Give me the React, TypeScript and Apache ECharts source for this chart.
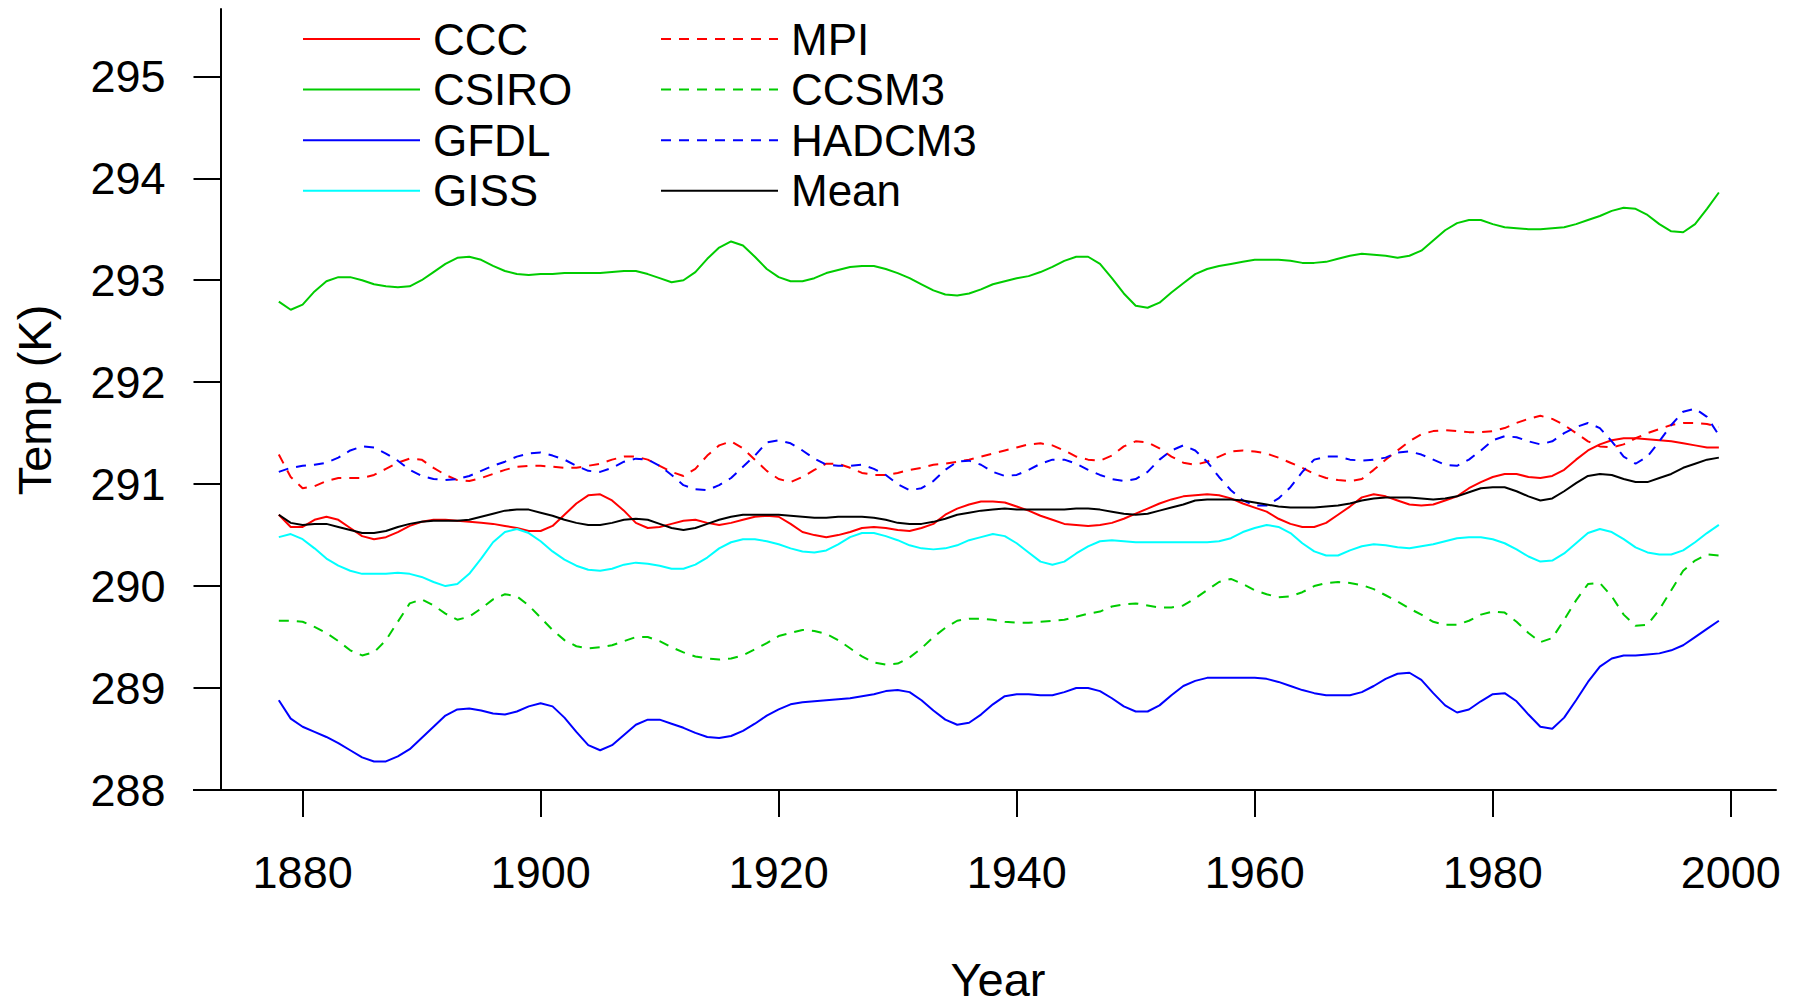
import React, { useEffect, useRef } from "react";
import * as echarts from "echarts";

const years: number[] = Array.from({ length: 122 }, (_, i) => 1878 + i);

const ccc = [290.70, 290.58,
  290.58, 290.65, 290.68, 290.65, 290.57, 290.49, 290.46, 290.48, 290.53, 290.59,
  290.63, 290.65, 290.65, 290.64, 290.63, 290.62, 290.61, 290.59, 290.57, 290.54,
  290.54, 290.59, 290.70, 290.81, 290.89, 290.90, 290.84, 290.74, 290.62, 290.57,
  290.58, 290.61, 290.64, 290.65, 290.62, 290.60, 290.62, 290.65, 290.68, 290.69,
  290.68, 290.61, 290.53, 290.50, 290.48, 290.50, 290.53, 290.57, 290.58, 290.57,
  290.55, 290.54, 290.57, 290.61, 290.70, 290.76, 290.80, 290.83, 290.83, 290.82,
  290.78, 290.74, 290.69, 290.65, 290.61, 290.60, 290.59, 290.60, 290.62, 290.66,
  290.71, 290.76, 290.81, 290.85, 290.88, 290.89, 290.90, 290.89, 290.86, 290.81,
  290.77, 290.73, 290.66, 290.61, 290.58, 290.58, 290.62, 290.70, 290.78, 290.87,
  290.90, 290.88, 290.84, 290.80, 290.79, 290.80, 290.84, 290.88, 290.96, 291.02,
  291.07, 291.10, 291.10, 291.07, 291.06, 291.08, 291.14, 291.24, 291.33, 291.39,
  291.43, 291.45, 291.45, 291.44, 291.43, 291.42, 291.40, 291.38, 291.36, 291.36];

const csiro = [292.79, 292.71,
  292.76, 292.89, 292.99, 293.03, 293.03, 293.00, 292.96, 292.94, 292.93, 292.94,
  293.00, 293.08, 293.16, 293.22, 293.23, 293.20, 293.14, 293.09, 293.06, 293.05,
  293.06, 293.06, 293.07, 293.07, 293.07, 293.07, 293.08, 293.09, 293.09, 293.06,
  293.02, 292.98, 293.00, 293.08, 293.21, 293.32, 293.38, 293.34, 293.23, 293.11,
  293.03, 292.99, 292.99, 293.02, 293.07, 293.10, 293.13, 293.14, 293.14, 293.11,
  293.07, 293.02, 292.96, 292.90, 292.86, 292.85, 292.87, 292.91, 292.96, 292.99,
  293.02, 293.04, 293.08, 293.13, 293.19, 293.23, 293.23, 293.16, 293.02, 292.87,
  292.75, 292.73, 292.78, 292.88, 292.97, 293.06, 293.11, 293.14, 293.16, 293.18,
  293.20, 293.20, 293.20, 293.19, 293.17, 293.17, 293.18, 293.21, 293.24, 293.26,
  293.25, 293.24, 293.22, 293.24, 293.29, 293.39, 293.49, 293.56, 293.59, 293.59,
  293.55, 293.52, 293.51, 293.50, 293.50, 293.51, 293.52, 293.55, 293.59, 293.63,
  293.68, 293.71, 293.70, 293.64, 293.55, 293.48, 293.47, 293.55, 293.70, 293.86];

const gfdl = [288.88, 288.70,
  288.62, 288.57, 288.52, 288.46, 288.39, 288.32, 288.28, 288.28, 288.33, 288.40,
  288.51, 288.62, 288.73, 288.79, 288.80, 288.78, 288.75, 288.74, 288.77, 288.82,
  288.85, 288.82, 288.71, 288.57, 288.44, 288.39, 288.44, 288.54, 288.64, 288.69,
  288.69, 288.65, 288.61, 288.56, 288.52, 288.51, 288.53, 288.58, 288.65, 288.73,
  288.79, 288.84, 288.86, 288.87, 288.88, 288.89, 288.90, 288.92, 288.94, 288.97,
  288.98, 288.96, 288.88, 288.78, 288.69, 288.64, 288.66, 288.74, 288.84, 288.92,
  288.94, 288.94, 288.93, 288.93, 288.96, 289.00, 289.00, 288.97, 288.90, 288.82,
  288.77, 288.77, 288.83, 288.93, 289.02, 289.07, 289.10, 289.10, 289.10, 289.10,
  289.10, 289.09, 289.06, 289.02, 288.98, 288.95, 288.93, 288.93, 288.93, 288.96,
  289.02, 289.09, 289.14, 289.15, 289.08, 288.95, 288.83, 288.76, 288.79, 288.87,
  288.94, 288.95, 288.87, 288.74, 288.62, 288.60, 288.71, 288.88, 289.06, 289.21,
  289.29, 289.32, 289.32, 289.33, 289.34, 289.37, 289.42, 289.50, 289.58, 289.66];

const giss = [290.48, 290.51,
  290.46, 290.37, 290.27, 290.20, 290.15, 290.12, 290.12, 290.12, 290.13, 290.12,
  290.09, 290.04, 290.00, 290.02, 290.12, 290.27, 290.43, 290.53, 290.56, 290.52,
  290.44, 290.34, 290.26, 290.20, 290.16, 290.15, 290.17, 290.21, 290.23, 290.22,
  290.20, 290.17, 290.17, 290.21, 290.28, 290.37, 290.43, 290.46, 290.46, 290.44,
  290.41, 290.37, 290.34, 290.33, 290.35, 290.41, 290.48, 290.52, 290.52, 290.49,
  290.45, 290.40, 290.37, 290.36, 290.37, 290.40, 290.45, 290.48, 290.51, 290.49,
  290.42, 290.33, 290.24, 290.21, 290.24, 290.32, 290.39, 290.44, 290.45, 290.44,
  290.43, 290.43, 290.43, 290.43, 290.43, 290.43, 290.43, 290.44, 290.47, 290.53,
  290.57, 290.60, 290.58, 290.52, 290.42, 290.34, 290.30, 290.30, 290.35, 290.39,
  290.41, 290.40, 290.38, 290.37, 290.39, 290.41, 290.44, 290.47, 290.48, 290.48,
  290.46, 290.42, 290.36, 290.29, 290.24, 290.25, 290.32, 290.42, 290.52, 290.56,
  290.53, 290.46, 290.38, 290.33, 290.31, 290.31, 290.35, 290.43, 290.52, 290.60];

const mpi = [291.29, 291.07,
  290.96, 290.98, 291.03, 291.06, 291.06, 291.06, 291.09, 291.15, 291.21, 291.25,
  291.24, 291.16, 291.09, 291.04, 291.03, 291.06, 291.10, 291.14, 291.17, 291.18,
  291.18, 291.17, 291.16, 291.16, 291.18, 291.20, 291.24, 291.27, 291.27, 291.24,
  291.18, 291.12, 291.08, 291.15, 291.28, 291.38, 291.42, 291.35, 291.24, 291.13,
  291.05, 291.02, 291.07, 291.14, 291.20, 291.20, 291.16, 291.11, 291.09, 291.09,
  291.11, 291.14, 291.16, 291.19, 291.20, 291.22, 291.24, 291.27, 291.30, 291.33,
  291.36, 291.39, 291.40, 291.38, 291.33, 291.27, 291.24, 291.23, 291.28, 291.37,
  291.42, 291.41, 291.35, 291.27, 291.21, 291.19, 291.22, 291.27, 291.32, 291.33,
  291.32, 291.30, 291.26, 291.21, 291.16, 291.10, 291.06, 291.04, 291.03, 291.05,
  291.14, 291.24, 291.33, 291.42, 291.49, 291.52, 291.53, 291.52, 291.51, 291.51,
  291.52, 291.55, 291.60, 291.64, 291.67, 291.64, 291.58, 291.50, 291.42, 291.37,
  291.36, 291.39, 291.45, 291.50, 291.54, 291.58, 291.60, 291.60, 291.59, 291.56];

const ccsm3 = [289.66, 289.66,
  289.65, 289.60, 289.54, 289.46, 289.37, 289.32, 289.35, 289.47, 289.65, 289.83,
  289.87, 289.81, 289.73, 289.67, 289.70, 289.78, 289.87, 289.92, 289.90, 289.81,
  289.69, 289.57, 289.47, 289.41, 289.39, 289.40, 289.42, 289.46, 289.50, 289.50,
  289.46, 289.40, 289.35, 289.31, 289.29, 289.28, 289.29, 289.32, 289.38, 289.44,
  289.51, 289.54, 289.57, 289.56, 289.53, 289.47, 289.39, 289.31, 289.25, 289.23,
  289.24, 289.30, 289.39, 289.50, 289.59, 289.66, 289.68, 289.68, 289.67, 289.65,
  289.64, 289.64, 289.65, 289.66, 289.67, 289.70, 289.73, 289.75, 289.80, 289.82,
  289.83, 289.81, 289.79, 289.79, 289.81, 289.88, 289.96, 290.04, 290.07, 290.02,
  289.96, 289.92, 289.89, 289.90, 289.94, 290.00, 290.03, 290.04, 290.03, 290.01,
  289.97, 289.91, 289.85, 289.78, 289.72, 289.65, 289.62, 289.62, 289.66, 289.72,
  289.75, 289.74, 289.65, 289.54, 289.45, 289.49, 289.67, 289.86, 290.02, 290.03,
  289.90, 289.72, 289.61, 289.62, 289.77, 289.96, 290.15, 290.25, 290.31, 290.30];

const hadcm3 = [291.12, 291.16,
  291.18, 291.19, 291.21, 291.26, 291.33, 291.37, 291.36, 291.30, 291.23, 291.14,
  291.08, 291.05, 291.04, 291.05, 291.08, 291.13, 291.18, 291.22, 291.27, 291.30,
  291.31, 291.28, 291.24, 291.18, 291.13, 291.12, 291.16, 291.22, 291.25, 291.24,
  291.18, 291.09, 290.99, 290.95, 290.94, 290.99, 291.06, 291.17, 291.28, 291.41,
  291.43, 291.40, 291.33, 291.25, 291.19, 291.18, 291.18, 291.19, 291.15, 291.09,
  291.00, 290.94, 290.96, 291.03, 291.14, 291.22, 291.23, 291.19, 291.12, 291.08,
  291.09, 291.14, 291.20, 291.24, 291.24, 291.20, 291.14, 291.09, 291.05, 291.03,
  291.05, 291.12, 291.24, 291.33, 291.38, 291.33, 291.22, 291.07, 290.94, 290.84,
  290.79, 290.79, 290.86, 290.97, 291.12, 291.24, 291.27, 291.27, 291.24, 291.23,
  291.24, 291.26, 291.31, 291.32, 291.29, 291.24, 291.19, 291.18, 291.24, 291.33,
  291.43, 291.47, 291.46, 291.42, 291.39, 291.42, 291.50, 291.56, 291.60, 291.55,
  291.42, 291.27, 291.20, 291.27, 291.42, 291.58, 291.71, 291.74, 291.66, 291.48];

const mean = [290.70, 290.62,
  290.60, 290.61, 290.61, 290.58, 290.55, 290.52, 290.52, 290.54, 290.58, 290.61,
  290.63, 290.64, 290.64, 290.64, 290.65, 290.68, 290.71, 290.74, 290.75, 290.75,
  290.72, 290.69, 290.65, 290.62, 290.60, 290.60, 290.62, 290.65, 290.66, 290.65,
  290.61, 290.57, 290.55, 290.57, 290.61, 290.65, 290.68, 290.70, 290.70, 290.70,
  290.70, 290.69, 290.68, 290.67, 290.67, 290.68, 290.68, 290.68, 290.67, 290.65,
  290.62, 290.61, 290.61, 290.63, 290.66, 290.70, 290.72, 290.74, 290.75, 290.76,
  290.75, 290.75, 290.75, 290.75, 290.75, 290.76, 290.76, 290.75, 290.73, 290.71,
  290.70, 290.71, 290.74, 290.77, 290.80, 290.84, 290.85, 290.85, 290.85, 290.84,
  290.82, 290.80, 290.78, 290.77, 290.77, 290.77, 290.78, 290.79, 290.81, 290.84,
  290.86, 290.87, 290.87, 290.87, 290.86, 290.85, 290.86, 290.88, 290.92, 290.96,
  290.97, 290.97, 290.93, 290.88, 290.84, 290.86, 290.93, 291.01, 291.08, 291.10,
  291.09, 291.05, 291.02, 291.02, 291.06, 291.10, 291.16, 291.20, 291.24, 291.26];

const xTicks = [1880, 1900, 1920, 1940, 1960, 1980, 2000];
const yTicks = [288, 289, 290, 291, 292, 293, 294, 295];

const legendCol1 = ["CCC", "CSIRO", "GFDL", "GISS"];
const legendCol2 = ["MPI", "CCSM3", "HADCM3", "Mean"];

const seriesDefs = [
  { name: "CCC", values: ccc, color: "#ff0000", dashed: false },
  { name: "CSIRO", values: csiro, color: "#00cc00", dashed: false },
  { name: "GFDL", values: gfdl, color: "#0000ff", dashed: false },
  { name: "GISS", values: giss, color: "#00ffff", dashed: false },
  { name: "MPI", values: mpi, color: "#ff0000", dashed: true },
  { name: "CCSM3", values: ccsm3, color: "#00cc00", dashed: true },
  { name: "HADCM3", values: hadcm3, color: "#0000ff", dashed: true },
  { name: "Mean", values: mean, color: "#000000", dashed: false },
];

const FONT = "'Liberation Sans', Arial, Helvetica, sans-serif";
const LEGEND_FS = 44;

export default function App() {
  const ref = useRef<HTMLDivElement>(null);
  useEffect(() => {
    if (!ref.current) return;
    const chart = echarts.init(ref.current, null, { renderer: "svg" });
    const legendBase = {
      orient: "vertical" as const,
      itemWidth: 117,
      itemHeight: 20,
      itemGap: 50.6 - LEGEND_FS,
      top: 39 - LEGEND_FS / 2,
      textStyle: { fontFamily: FONT, fontSize: LEGEND_FS, color: "#000", lineHeight: LEGEND_FS, padding: [0, 0, 0, 8] },
      itemStyle: { opacity: 0 },
      selectedMode: false,
      padding: 0,
    };
    chart.setOption({
      animation: false,
      backgroundColor: "#ffffff",
      grid: { left: 220.5, right: 25, top: 9, bottom: 214, containLabel: false },
      legend: [
        { ...legendBase, left: 302, data: legendCol1 },
        { ...legendBase, left: 660, data: legendCol2 },
      ],
      xAxis: {
        type: "value",
        min: 1873.1,
        max: 2003.8,
        axisLine: { show: true, lineStyle: { color: "#000", width: 2 } },
        axisTick: { show: true, length: 27, inside: false, customValues: xTicks, lineStyle: { color: "#000", width: 2 } },
        axisLabel: { customValues: xTicks, margin: 60, fontFamily: FONT, fontSize: 45, color: "#000", formatter: (v: number) => String(v) },
        splitLine: { show: false },
      },
      yAxis: {
        type: "value",
        min: 288,
        max: 295.66,
        axisLine: { show: true, lineStyle: { color: "#000", width: 2 } },
        axisTick: { show: true, length: 27, customValues: yTicks, lineStyle: { color: "#000", width: 2 } },
        axisLabel: { customValues: yTicks, margin: 55, fontFamily: FONT, fontSize: 45, color: "#000", formatter: (v: number) => String(v) },
        splitLine: { show: false },
      },
      graphic: [
        { type: "line", shape: { x1: 193, y1: 790, x2: 221, y2: 790 }, style: { stroke: "#000", lineWidth: 2 } },
        {
          type: "text", x: 34.5, y: 400, rotation: Math.PI / 2,
          style: { text: "Temp (K)", font: `47px ${FONT}`, fill: "#000", textAlign: "center", textVerticalAlign: "middle", align: "center", verticalAlign: "middle" },
        },
        {
          type: "text", x: 998, y: 979,
          style: { text: "Year", font: `47px ${FONT}`, lineHeight: 40, fill: "#000", textAlign: "center", textVerticalAlign: "middle", align: "center", verticalAlign: "middle" },
        },
      ],
      series: seriesDefs.map((s) => ({
        name: s.name,
        type: "line",
        symbol: "none",
        data: s.values.map((v, i) => [years[i], v]),
        lineStyle: { color: s.color, width: 2, type: s.dashed ? [10, 8] : "solid" },
        itemStyle: { color: s.color },
        z: s.name === "Mean" ? 3 : 2,
      })),
    });
    return () => chart.dispose();
  }, []);
  return <div ref={ref} style={{ position: "absolute", left: 0, top: 0, width: 1801, height: 1004 }} />;
}
